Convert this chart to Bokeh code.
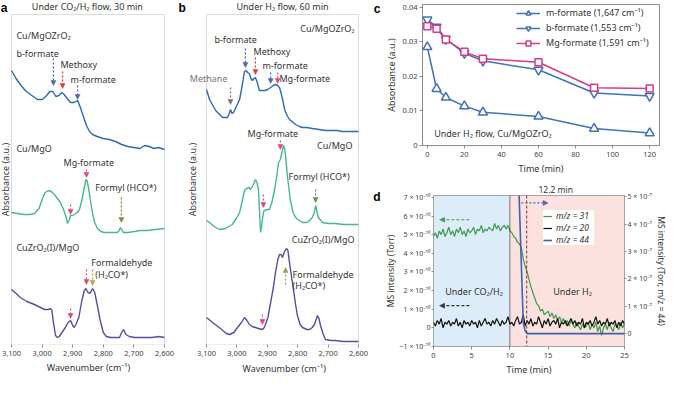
import math
import numpy as np
from bokeh.plotting import figure
from bokeh.layouts import row, column
from bokeh.models import (Range1d, LinearAxis, FixedTicker, NumeralTickFormatter, Label, Title,
                          Arrow, NormalHead, Span, BoxAnnotation, Legend, LegendItem)
from bokeh.embed import file_html
from bokeh.resources import INLINE

FONT = "Noto Sans"
TXT = "#333333"
FRAME = "#8c8c8c"

# ---------------- panel a : under CO2/H2 flow, 30 min ----------------
wn_ticks = [3100, 3000, 2900, 2800, 2700, 2600]

a1_wn = [3100, 3085, 3071, 3055, 3038, 3015, 2999, 2985, 2975, 2965, 2955, 2945, 2935, 2928, 2918, 2907, 2895, 2884,
         2876, 2865, 2855, 2845, 2835, 2820, 2800, 2780, 2760, 2740, 2720, 2700, 2680, 2665, 2650, 2635, 2620, 2600]
a1_abs = [2.74, 2.66, 2.60, 2.54, 2.50, 2.45, 2.45, 2.49, 2.53, 2.53, 2.48, 2.49, 2.52, 2.50, 2.46, 2.42, 2.42, 2.44,
          2.38, 2.28, 2.19, 2.13, 2.10, 2.08, 2.06, 2.05, 2.03, 2.00, 1.98, 1.97, 1.96, 1.99, 1.98, 1.96, 1.97, 1.95]

a2_wn = [3100, 3080, 3060, 3040, 3025, 3010, 3000, 2990, 2980, 2970, 2960, 2950, 2940, 2930, 2922, 2917, 2912, 2907,
         2900, 2894, 2885, 2878, 2870, 2862, 2857, 2853, 2848, 2842, 2835, 2828, 2819, 2808, 2796, 2780, 2765, 2754,
         2748, 2744, 2740, 2734, 2720, 2698, 2680, 2656, 2630, 2600]
a2_abs = [1.32, 1.31, 1.30, 1.30, 1.31, 1.36, 1.45, 1.52, 1.54, 1.53, 1.50, 1.46, 1.42, 1.35, 1.28, 1.21, 1.24, 1.29,
          1.29, 1.30, 1.32, 1.35, 1.44, 1.57, 1.65, 1.64, 1.56, 1.44, 1.31, 1.22, 1.16, 1.13, 1.12, 1.12, 1.12, 1.12,
          1.14, 1.17, 1.15, 1.12, 1.12, 1.13, 1.14, 1.14, 1.15, 1.16]

a3_wn = [3100, 3085, 3071, 3050, 3025, 3005, 2992, 2980, 2972, 2968, 2963, 2956, 2950, 2944, 2935, 2924, 2915, 2907,
         2900, 2895, 2888, 2880, 2870, 2862, 2857, 2850, 2845, 2840, 2835, 2828, 2820, 2810, 2800, 2790, 2776, 2760,
         2747, 2740, 2734, 2726, 2715, 2698, 2670, 2640, 2620, 2600]
a3_abs = [0.55, 0.51, 0.47, 0.43, 0.40, 0.37, 0.35, 0.35, 0.36, 0.34, 0.22, 0.09, 0.07, 0.08, 0.12, 0.17, 0.22, 0.24,
          0.19, 0.17, 0.21, 0.27, 0.44, 0.54, 0.56, 0.52, 0.51, 0.53, 0.56, 0.52, 0.40, 0.24, 0.12, 0.08, 0.07, 0.07,
          0.07, 0.12, 0.15, 0.10, 0.08, 0.07, 0.07, 0.07, 0.08, 0.07]

# ---------------- panel b : under H2 flow, 60 min ----------------
b1_wn = [3100, 3090, 3070, 3047, 3031, 3025, 3021, 3016, 3011, 2991, 2982, 2975, 2970, 2965, 2959, 2954, 2949, 2944,
         2939, 2933, 2926, 2916, 2906, 2899, 2889, 2880, 2873, 2866, 2860, 2855, 2849, 2843, 2835, 2827, 2815, 2807,
         2795, 2784, 2770, 2751, 2730, 2709, 2690, 2670, 2653, 2630, 2600]
b1_abs = [2.55, 2.45, 2.34, 2.27, 2.27, 2.31, 2.35, 2.31, 2.32, 2.45, 2.60, 2.73, 2.74, 2.72, 2.71, 2.66, 2.64, 2.66,
          2.67, 2.62, 2.54, 2.54, 2.54, 2.55, 2.57, 2.59, 2.60, 2.59, 2.57, 2.52, 2.44, 2.35, 2.29, 2.25, 2.22, 2.20,
          2.18, 2.17, 2.17, 2.16, 2.15, 2.14, 2.14, 2.14, 2.13, 2.13, 2.13]

b2_wn = [3100, 3090, 3075, 3057, 3038, 3015, 3000, 2991, 2982, 2975, 2968, 2960, 2955, 2947, 2939, 2934, 2929, 2926,
         2922, 2918, 2916, 2912, 2909, 2900, 2893, 2885, 2876, 2868, 2863, 2857, 2850, 2846, 2843, 2840, 2834, 2824,
         2815, 2807, 2795, 2784, 2770, 2761, 2752, 2745, 2741, 2736, 2732, 2718, 2700, 2676, 2650, 2620, 2600]
b2_abs = [1.24, 1.22, 1.18, 1.15, 1.16, 1.20, 1.27, 1.32, 1.44, 1.54, 1.56, 1.57, 1.55, 1.59, 1.65, 1.62, 1.55, 1.35,
          1.12, 1.20, 1.25, 1.33, 1.34, 1.35, 1.35, 1.42, 1.55, 1.70, 1.82, 1.85, 1.95, 1.99, 1.96, 1.89, 1.69, 1.44,
          1.32, 1.27, 1.24, 1.22, 1.22, 1.24, 1.27, 1.32, 1.39, 1.32, 1.27, 1.22, 1.21, 1.21, 1.20, 1.20, 1.20]

b3_wn = [3100, 3080, 3054, 3035, 3024, 3010, 2998, 2985, 2975, 2967, 2959, 2950, 2939, 2929, 2919, 2912, 2906, 2898,
         2889, 2880, 2873, 2866, 2860, 2855, 2850, 2845, 2837, 2832, 2827, 2820, 2814, 2807, 2801, 2792, 2784, 2770,
         2761, 2752, 2745, 2738, 2735, 2730, 2725, 2718, 2709, 2690, 2676, 2650, 2620, 2600]
b3_abs = [0.27, 0.22, 0.16, 0.11, 0.10, 0.12, 0.17, 0.22, 0.27, 0.24, 0.20, 0.18, 0.17, 0.16, 0.15, 0.16, 0.20, 0.27,
          0.42, 0.57, 0.72, 0.84, 0.90, 0.90, 0.87, 0.92, 0.96, 0.94, 0.82, 0.67, 0.55, 0.40, 0.29, 0.20, 0.17, 0.15,
          0.15, 0.17, 0.20, 0.26, 0.29, 0.26, 0.19, 0.12, 0.05, 0.04, 0.04, 0.03, 0.03, 0.03]

# ---------------- panel c : formate decay ----------------
c_time = [0, 5, 10, 20, 30, 60, 90, 120]
c_m_formate = [0.0285, 0.0164, 0.0139, 0.0114, 0.0096, 0.0084, 0.0049, 0.0036]
c_b_formate = [0.0364, 0.0343, 0.0308, 0.0267, 0.0245, 0.0219, 0.0152, 0.0143]
c_mg_formate = [0.0345, 0.0338, 0.0307, 0.0271, 0.0251, 0.0241, 0.0167, 0.0165]
c_xticks = [0, 20, 40, 60, 80, 100, 120]
c_yticks = [0, 0.01, 0.02, 0.03, 0.04]

# ---------------- panel d : MS traces ----------------
d_step = 0.25  # min between samples
# m/z = 31 (units of 1e-10 Torr)
d_m31 = [4.9, 5.1, 4.8, 5.2, 5.0, 5.3, 4.9, 5.1, 5.4, 5.0, 5.2,
         4.9, 5.3, 5.1, 5.4, 5.0, 5.2, 4.9, 5.3, 5.1, 5.2,
         5.4, 5.0, 5.3, 5.2, 5.5, 5.1, 5.3, 5.2, 5.4, 5.3,
         5.2, 5.6, 5.3, 5.5, 5.2, 5.4, 5.5, 5.3, 5.5, 5.2,
         5.1, 4.9, 4.8, 4.6, 4.5, 4.3, 3.7, 3.3, 3.0, 2.6,
         2.2, 1.9, 1.6, 1.3, 1.2, 0.9, 1.0, 0.7, 0.8, 0.9,
         0.6, 0.8, 0.5, 0.7, 0.4, 0.6, 0.3, 0.5, 0.2, 0.4,
         0.1, 0.4, 0.2, 0.0, 0.3, 0.1, -0.1, 0.2, 0.0, 0.1,
         0.3, -0.1, 0.2, 0.0, 0.3, -0.2, 0.1, -0.4, 0.0, 0.2,
         -0.1, 0.3, 0.0, -0.2, 0.2, 0.1, -0.1, 0.3, 0.0, 0.2]
# m/z = 20 (units of 1e-10 Torr)
d_m20 = [0.3, 0.1, 0.4, 0.2, 0.5, 0.0, 0.3, 0.2, 0.4, 0.1, 0.3,
         0.2, 0.5, 0.1, 0.3, 0.0, 0.4, 0.2, 0.3, 0.1, 0.4,
         0.2, 0.3, 0.0, 0.4, 0.1, 0.3, 0.5, 0.2, 0.3, 0.1,
         0.4, 0.2, 0.5, 0.3, 0.1, 0.4, 0.2, 0.3, 0.6, 0.2,
         0.3, 0.1, 0.4, 0.6, 0.2, 0.3, 0.7, 0.1, 0.4, 0.2,
         0.5, 0.1, 0.3, 0.2, 0.6, 0.3, 0.0, 0.4, 0.2, 0.5,
         0.1, 0.3, 0.4, 0.2, 0.5, 0.0, 0.3, 0.2, 0.4, 0.1,
         0.3, 0.5, 0.2, 0.4, 0.1, 0.3, 0.2, 0.5, 0.0, 0.3,
         0.2, 0.4, 0.1, 0.3, 0.6, 0.2, 0.4, 0.1, 0.3, 0.2,
         0.5, 0.1, 0.3, 0.2, 0.4, 0.0, 0.3, 0.1, 0.4, 0.2]
# m/z = 44 (units of 1e-7 Torr)
d_t44 = [0, 10.9, 11.2, 11.5, 11.75, 12.0, 12.3, 13.0, 25.0]
d_m44 = [9.0, 9.0, 5.1, 2.5, 0.4, 0.1, 0.0, 0.0, 0.0]
d_xticks = [0, 5, 10, 15, 20, 25]
d_lticks = [-1, 0, 1, 2, 3, 4, 5, 6, 7]
d_rticks = [0, 1, 2, 3, 4, 5]

SUP = str.maketrans("-0123456789", "⁻⁰¹²³⁴⁵⁶⁷⁸⁹")

# ---------------- colours ----------------
C_BLUE_S = "#2c6bb0"
C_GREEN_S = "#45b98a"
C_PURPLE_S = "#5b4b9f"
C_PINK = "#e5407f"
C_RED = "#e23b3b"
C_ABLUE = "#4a64b0"
C_OLIVE = "#6f8f3a"
C_YOLIVE = "#b2a83c"
C_GRAY = "#777777"


def label(p, x, y, text, color=TXT, align="left", size="9px", style="normal", baseline="middle", font=FONT,
          angle=0.0):
    p.add_layout(Label(x=x, y=y, text=text, text_color=color, text_align=align, text_font_size=size,
                       text_font_style=style, text_baseline=baseline, text_font=font, angle=angle))


def arrow(p, x0, y0, x1, y1, color, dash="2 2"):
    p.add_layout(Arrow(end=NormalHead(size=5, fill_color=color, line_color=color, line_width=0.5),
                       x_start=x0, y_start=y0, x_end=x1, y_end=y1,
                       line_color=color, line_width=1.2, line_dash=dash))


def no_align(p):
    if "frame_align" in p.properties():
        p.frame_align = False


def style_common(p):
    p.grid.visible = False
    p.outline_line_color = FRAME
    p.outline_line_width = 1
    p.background_fill_color = "white"
    p.border_fill_color = "white"
    no_align(p)
    for ax in p.axis:
        ax.axis_line_color = None
        ax.major_tick_line_color = FRAME
        ax.minor_tick_line_color = None
        ax.major_tick_out = 3
        ax.major_tick_in = 0
        ax.major_label_text_font = FONT
        ax.major_label_text_font_size = "7.5px"
        ax.major_label_text_color = "#444444"
        ax.major_label_standoff = 3
        ax.axis_label_text_font = FONT
        ax.axis_label_text_font_size = "9px"
        ax.axis_label_text_font_style = "normal"
        ax.axis_label_text_color = TXT
        ax.axis_label_standoff = 2


def letter_axis(p, tick, text):
    ax = LinearAxis(ticker=FixedTicker(ticks=[tick]), major_label_overrides={tick: text})
    ax.axis_line_color = None
    ax.major_tick_line_color = None
    ax.minor_tick_line_color = None
    ax.major_tick_out = 0
    ax.major_tick_in = 0
    ax.major_label_standoff = 1
    ax.major_label_text_font = "Liberation Sans"
    ax.major_label_text_font_size = "12px"
    ax.major_label_text_font_style = "bold"
    ax.major_label_text_color = "black"
    p.add_layout(ax, "left")


def spec_fig(width, x_start, x_end):
    # frame covers the whole canvas except the bottom axis band; the spectrum box is drawn inside it
    p = figure(width=width, height=377, x_range=Range1d(x_start, x_end), y_range=Range1d(0, 3.44),
               output_backend="svg", toolbar_location=None, y_axis_location=None,
               min_border_left=0, min_border_right=0, min_border_top=0, min_border_bottom=33)
    style_common(p)
    p.outline_line_color = None
    p.xaxis.ticker = FixedTicker(ticks=wn_ticks)
    p.xaxis.formatter = NumeralTickFormatter(format="0,0")
    p.add_layout(BoxAnnotation(left=wn_ticks[0], right=wn_ticks[-1], bottom=0, top=3.30, fill_alpha=0,
                               line_color=FRAME, line_width=1))
    return p


# ================= panel a =================
fa = spec_fig(176, 3135.9, 2560.8)
fa.xaxis.axis_label = "Wavenumber (cm⁻¹)"
fa.line(a1_wn, a1_abs, line_color=C_BLUE_S, line_width=1.4)
fa.line(a2_wn, a2_abs, line_color=C_GREEN_S, line_width=1.4)
fa.line(a3_wn, a3_abs, line_color=C_PURPLE_S, line_width=1.4)
label(fa, 3135, 3.435, "a", color="black", size="12px", style="bold", baseline="top", font="Liberation Sans")
label(fa, 3121, 1.65, "Absorbance (a.u.)", align="center", angle=math.pi / 2)
label(fa, 2852, 3.38, "Under CO₂/H₂ flow, 30 min", align="center")
label(fa, 3084, 3.09, "Cu/MgOZrO₂")
label(fa, 3084, 2.91, "b-formate")
label(fa, 2940, 2.80, "Methoxy")
label(fa, 2907, 2.65, "m-formate")
label(fa, 3084, 1.96, "Cu/MgO")
label(fa, 2930, 1.82, "Mg-formate")
label(fa, 2826, 1.57, "Formyl (HCO*)")
label(fa, 3084, 0.97, "CuZrO₂(I)/MgO")
label(fa, 2839, 0.82, "Formaldehyde")
label(fa, 2826, 0.70, "(H₂CO*)")
arrow(fa, 2963, 2.86, 2963, 2.59, C_ABLUE)
arrow(fa, 2933, 2.73, 2933, 2.56, C_RED)
arrow(fa, 2884, 2.59, 2884, 2.45, C_ABLUE)
arrow(fa, 2855, 1.75, 2855, 1.67, C_PINK)
arrow(fa, 2741, 1.47, 2741, 1.22, C_OLIVE)
arrow(fa, 2907, 1.40, 2907, 1.30, C_PINK)
arrow(fa, 2855, 0.75, 2855, 0.60, C_PINK)
arrow(fa, 2835, 0.75, 2835, 0.59, C_YOLIVE)
arrow(fa, 2907, 0.36, 2907, 0.26, C_PINK)

# ================= panel b =================
fb = spec_fig(194, 3198.7, 2560.5)
fb.add_layout(Title(text="Wavenumber (cm⁻¹)", align="left", offset=66, text_font=FONT, text_font_size="9px",
                    text_font_style="normal", text_color=TXT, standoff=2), "below")
fb.line(b1_wn, b1_abs, line_color=C_BLUE_S, line_width=1.4)
fb.line(b2_wn, b2_abs, line_color=C_GREEN_S, line_width=1.4)
fb.line(b3_wn, b3_abs, line_color=C_PURPLE_S, line_width=1.4)
label(fb, 3192, 3.435, "b", color="black", size="12px", style="bold", baseline="top", font="Liberation Sans")
label(fb, 3146, 1.65, "Absorbance (a.u.)", align="center", angle=math.pi / 2)
label(fb, 2850, 3.38, "Under H₂ flow, 60 min", align="center")
label(fb, 2613, 3.16, "Cu/MgOZrO₂", align="right")
label(fb, 3074, 3.05, "b-formate")
label(fb, 2945, 2.93, "Methoxy")
label(fb, 2916, 2.79, "m-formate")
label(fb, 2860, 2.66, "Mg-formate")
label(fb, 3093, 2.66, "Methane", color=C_GRAY, align="center")
label(fb, 2965, 2.11, "Mg-formate")
label(fb, 2620, 1.99, "Cu/MgO", align="right")
label(fb, 2830, 1.68, "Formyl (HCO*)")
label(fb, 2613, 1.05, "CuZrO₂(I)/MgO", align="right")
label(fb, 2817, 0.70, "Formaldehyde")
label(fb, 2817, 0.59, "(H₂CO*)")
arrow(fb, 3021, 2.57, 3021, 2.40, C_GRAY)
arrow(fb, 2972, 2.96, 2972, 2.77, C_ABLUE)
arrow(fb, 2939, 2.87, 2939, 2.70, C_RED)
arrow(fb, 2889, 2.72, 2889, 2.61, C_ABLUE)
arrow(fb, 2866, 2.72, 2866, 2.61, C_PINK)
arrow(fb, 2857, 2.04, 2857, 1.95, C_PINK)
arrow(fb, 2741, 1.55, 2741, 1.42, C_OLIVE)
arrow(fb, 2913, 1.50, 2913, 1.37, C_PINK)
arrow(fb, 2840, 0.60, 2840, 0.77, "#9a9f4a")
arrow(fb, 2916, 0.30, 2916, 0.20, C_PINK)

# ================= panel c =================
C_LBLUE = "#3f72b8"
C_LPINK = "#d93a86"
fc = figure(width=299, height=178, x_range=Range1d(-2.6, 125.3), y_range=Range1d(0, 0.0408),
            output_backend="svg", toolbar_location=None, min_border_left=44, min_border_right=10,
            min_border_top=4, min_border_bottom=33)
style_common(fc)
fc.xaxis.ticker = FixedTicker(ticks=c_xticks)
fc.yaxis.ticker = FixedTicker(ticks=c_yticks)
fc.yaxis.major_label_overrides = {t: ("0" if t == 0 else f"{t:.2f}") for t in c_yticks}
fc.xaxis.axis_label = "Time (min)"
fc.yaxis.axis_label = "Absorbance (a.u.)"
fc.yaxis.major_label_standoff = 2
letter_axis(fc, 0.0405, "c")
l1 = fc.line(c_time, c_m_formate, line_color=C_LBLUE, line_width=1.5)
s1 = fc.scatter(c_time, c_m_formate, marker="triangle", size=9, fill_color="white", line_color=C_LBLUE,
                line_width=1.5)
l2 = fc.line(c_time, c_b_formate, line_color=C_LBLUE, line_width=1.5)
s2 = fc.scatter(c_time, c_b_formate, marker="inverted_triangle", size=9, fill_color="white", line_color=C_LBLUE,
                line_width=1.5)
l3 = fc.line(c_time, c_mg_formate, line_color=C_LPINK, line_width=1.5)
s3 = fc.scatter(c_time, c_mg_formate, marker="square", size=7, fill_color="white", line_color=C_LPINK,
                line_width=1.5)
leg_c = Legend(items=[LegendItem(label="m-formate (1,647 cm⁻¹)", renderers=[l1, s1]),
                      LegendItem(label="b-formate (1,553 cm⁻¹)", renderers=[l2, s2]),
                      LegendItem(label="Mg-formate (1,591 cm⁻¹)", renderers=[l3, s3])],
               location=(94, 96), background_fill_alpha=0, border_line_color=None,
               label_text_font=FONT, label_text_font_size="9px", label_text_color=TXT,
               glyph_width=24, glyph_height=12, label_height=13, label_width=104, spacing=2, padding=2, margin=0,
               label_standoff=6)
fc.add_layout(leg_c)
label(fc, 3.7, 0.0035, "Under H₂ flow, Cu/MgOZrO₂")

# ================= panel d =================
D_GREEN = "#3d9a4c"
D_BLACK = "#111111"
D_BLUE = "#3c63b3"
fd = figure(width=299, height=200, x_range=Range1d(0, 25), y_range=Range1d(-1.0, 7.1),
            output_backend="svg", toolbar_location=None, min_border_left=40, min_border_right=36,
            min_border_top=17, min_border_bottom=30)
fd.extra_y_ranges = {"r": Range1d(-0.47, 5.05)}
fd.add_layout(LinearAxis(y_range_name="r"), "right")
style_common(fd)
fd.xaxis.ticker = FixedTicker(ticks=d_xticks)
fd.xaxis.axis_label = "Time (min)"
fd.yaxis[0].ticker = FixedTicker(ticks=d_lticks)
fd.yaxis[0].major_label_overrides = {t: ("0" if t == 0 else f"{t} × 10" + "-10".translate(SUP)).replace("-1 ×", "−1 ×")
                                     for t in d_lticks}
fd.yaxis[0].axis_label = "MS intensity (Torr)"
fd.yaxis[1].ticker = FixedTicker(ticks=d_rticks)
fd.yaxis[1].major_label_overrides = {t: ("0" if t == 0 else f"{t} × 10" + "-7".translate(SUP)) for t in d_rticks}
fd.yaxis[1].axis_label = "MS intensity (Torr, m/z = 44)"
for ax in fd.yaxis:
    ax.major_label_text_font_size = "7px"
    ax.axis_label_text_font_size = "8.5px"
    ax.axis_label_standoff = 1
    ax.major_label_standoff = 1
    ax.major_tick_out = 2
letter_axis(fd, 7, "d")
fd.add_layout(Title(text="12.2 min", align="left", offset=105, text_font=FONT, text_font_size="8.5px",
                    text_font_style="normal", text_color=TXT, standoff=1), "above")
fd.add_layout(BoxAnnotation(left=0, right=10, fill_color="#dcedf9", fill_alpha=1, line_color=None, level="underlay"))
fd.add_layout(BoxAnnotation(left=10, right=25, fill_color="#fbe2df", fill_alpha=1, line_color=None, level="underlay"))
d_t = np.arange(len(d_m31)) * d_step
g31 = fd.line(d_t, d_m31, line_color=D_GREEN, line_width=1.2)
g20 = fd.line(d_t, d_m20, line_color=D_BLACK, line_width=1.2)
g44 = fd.line(d_t44, d_m44, line_color=D_BLUE, line_width=1.6, y_range_name="r")
fd.add_layout(Span(location=10, dimension="height", line_color="black", line_dash="1 1", line_width=1))
fd.add_layout(Span(location=12.2, dimension="height", line_color="#7a3535", line_dash="3 2", line_width=1))
leg_d = Legend(items=[LegendItem(label="m/z = 31", renderers=[g31]),
                      LegendItem(label="m/z = 20", renderers=[g20]),
                      LegendItem(label="m/z = 44", renderers=[g44])],
               location=(110, 101), background_fill_color="white", background_fill_alpha=1,
               border_line_color=None, label_text_font=FONT, label_text_font_size="8.5px",
               label_text_font_style="italic", label_text_color=TXT, label_width=38,
               glyph_width=9, glyph_height=10, label_height=11, spacing=1, padding=4, margin=0, label_standoff=4)
fd.add_layout(leg_d)
arrow(fd, 11.5, 6.7, 15.0, 6.7, C_ABLUE, dash="2 2")
arrow(fd, 4.7, 5.8, 0.8, 5.8, D_GREEN, dash="3 2")
arrow(fd, 4.7, 1.19, 0.8, 1.19, "#333333", dash="3 2")
label(fd, 5.3, 1.96, "Under CO₂/H₂", align="center", size="9px")
label(fd, 18.2, 1.96, "Under H₂", align="center", size="9px")

for f in (fa, fb, fc, fd):
    no_align(f)

layout = row(fa, fb, column(fc, fd))
open("out.html", "w").write(file_html(layout, INLINE))
